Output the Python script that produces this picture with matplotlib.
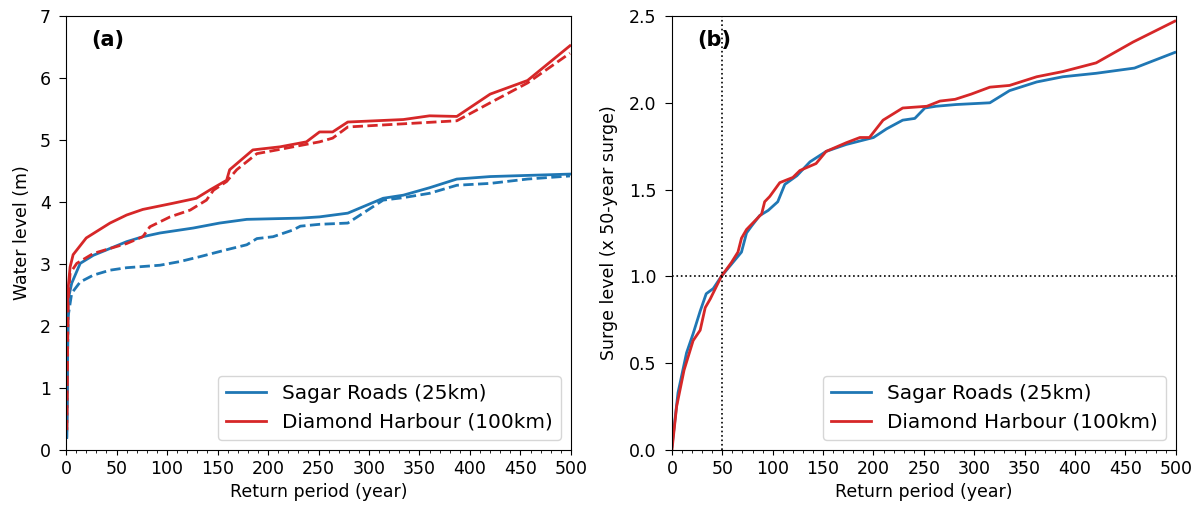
import numpy as np
import matplotlib
matplotlib.use("Agg")
from matplotlib import pyplot as plt
from matplotlib.ticker import MultipleLocator, FormatStrFormatter

# panel (a): water level vs return period
sagar_rp = [0.7, 2, 5.6, 14, 27, 43.5, 60, 76, 93, 126, 152, 179, 205, 232, 251, 279, 314, 334, 360, 387, 420, 499]
sagar_wl = [0.2, 2.42, 2.69, 3.01, 3.14, 3.25, 3.36, 3.44, 3.5, 3.58, 3.66, 3.72, 3.73, 3.74, 3.76, 3.82, 4.06, 4.11, 4.23, 4.37, 4.41, 4.45]

sagar_d_rp = [0.7, 2, 5.6, 14, 27, 43.5, 60, 93, 113, 133, 159, 179, 189, 205, 225, 232, 251, 279, 314, 334, 360, 387, 420, 457, 499]
sagar_d_wl = [0.2, 2.15, 2.53, 2.71, 2.82, 2.9, 2.94, 2.98, 3.04, 3.12, 3.23, 3.31, 3.41, 3.44, 3.55, 3.61, 3.64, 3.66, 4.03, 4.07, 4.14, 4.27, 4.3, 4.37, 4.42]

diamond_rp = [0.7, 2, 4, 7, 20, 43.5, 60, 76, 106, 129, 143, 159, 162, 185, 212, 238, 251, 264, 279, 334, 360, 387, 420, 457, 499]
diamond_wl = [0.32, 2.6, 2.95, 3.15, 3.42, 3.66, 3.79, 3.88, 3.98, 4.06, 4.2, 4.35, 4.52, 4.84, 4.89, 4.97, 5.13, 5.13, 5.29, 5.33, 5.39, 5.38, 5.74, 5.96, 6.52]

diamond_d_rp = [0.7, 2, 4, 10.6, 27, 60, 76, 83, 103, 123, 139, 146, 159, 169, 189, 209, 225, 251, 264, 279, 387, 420, 457, 499]
diamond_d_wl = [0.32, 2.4, 2.85, 3.01, 3.17, 3.33, 3.44, 3.6, 3.76, 3.87, 4.03, 4.19, 4.33, 4.52, 4.78, 4.84, 4.89, 4.97, 5.03, 5.21, 5.31, 5.6, 5.92, 6.4]

# panel (b): surge level normalised by 50-year surge
sagar_n_rp = [0, 6, 14.5, 21, 28, 34, 41, 49, 59, 69, 74, 79, 87, 95.5, 105, 112, 124, 137, 153, 173, 200, 213, 229, 241, 251, 262, 282, 315.5, 335, 362, 388, 421, 459, 499]
sagar_n = [0.02, 0.33, 0.56, 0.67, 0.8, 0.9, 0.93, 1.0, 1.07, 1.14, 1.25, 1.29, 1.35, 1.38, 1.43, 1.53, 1.58, 1.66, 1.72, 1.76, 1.8, 1.85, 1.9, 1.91, 1.97, 1.98, 1.99, 2.0, 2.07, 2.12, 2.15, 2.17, 2.2, 2.29]

diamond_n_rp = [0, 4.6, 12, 21, 28, 33, 38, 49, 59, 65.5, 69, 74, 84, 89, 92, 97, 102, 107, 120, 127, 143, 153, 173, 186.5, 196, 209.5, 229, 253, 266, 281, 297, 315.5, 335, 362, 388, 421, 457.6, 499]
diamond_n = [0.0, 0.25, 0.46, 0.63, 0.69, 0.82, 0.87, 1.0, 1.08, 1.14, 1.22, 1.27, 1.33, 1.36, 1.43, 1.46, 1.5, 1.54, 1.57, 1.61, 1.65, 1.72, 1.77, 1.8, 1.8, 1.9, 1.97, 1.98, 2.01, 2.02, 2.05, 2.09, 2.1, 2.15, 2.18, 2.23, 2.35, 2.47]

BLUE = "#1f77b4"
RED = "#d62728"

fig = plt.figure(figsize=(12.01, 5.11), dpi=100)
ax1 = fig.add_axes([0.055, 0.1194, 0.4204, 0.8493])
ax2 = fig.add_axes([0.5595, 0.1194, 0.4195, 0.8493])

ax1.plot(sagar_rp, sagar_wl, color=BLUE, lw=2, label="Sagar Roads (25km)")
ax1.plot(diamond_rp, diamond_wl, color=RED, lw=2, label="Diamond Harbour (100km)")
ax1.plot(sagar_d_rp, sagar_d_wl, color=BLUE, lw=2, ls="--")
ax1.plot(diamond_d_rp, diamond_d_wl, color=RED, lw=2, ls="--")
ax1.set_xlim(0, 500)
ax1.set_ylim(0, 7)
ax1.set_ylabel("Water level (m)", fontsize=12.5, labelpad=6)
ax1.text(0.05, 0.945, "(a)", transform=ax1.transAxes, fontsize=15,
         fontweight="bold", va="center")

ax2.plot(sagar_n_rp, sagar_n, color=BLUE, lw=2, label="Sagar Roads (25km)")
ax2.plot(diamond_n_rp, diamond_n, color=RED, lw=2, label="Diamond Harbour (100km)")
ax2.axvline(50, color="black", ls=":", lw=1.2)
ax2.axhline(1.0, color="black", ls=":", lw=1.2)
ax2.set_xlim(0, 500)
ax2.set_ylim(0, 2.5)
ax2.yaxis.set_major_locator(MultipleLocator(0.5))
ax2.yaxis.set_major_formatter(FormatStrFormatter("%.1f"))
ax2.set_ylabel("Surge level (x 50-year surge)", fontsize=12.5, labelpad=8)
ax2.text(0.05, 0.945, "(b)", transform=ax2.transAxes, fontsize=15,
         fontweight="bold", va="center")

for ax in (ax1, ax2):
    ax.xaxis.set_major_locator(MultipleLocator(50))
    ax.xaxis.set_minor_locator(MultipleLocator(10))
    ax.set_xlabel("Return period (year)", fontsize=12.5)
    ax.tick_params(labelsize=12.5)
    ax.tick_params(axis="y", length=5, pad=6)
    ax.legend(loc="lower right", fontsize=14.4)

fig.savefig("out.png", dpi=100)
